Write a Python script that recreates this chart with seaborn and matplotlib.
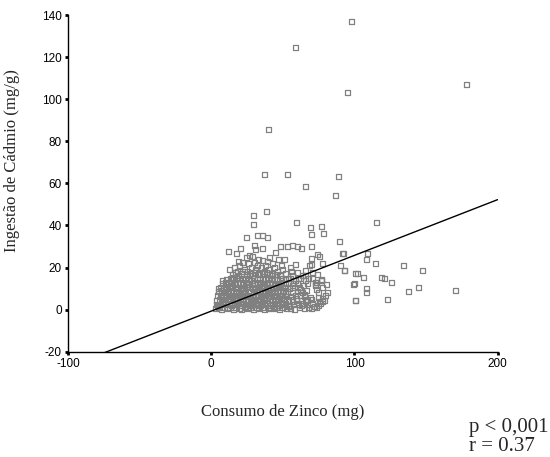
import matplotlib
matplotlib.use("Agg")
import matplotlib.pyplot as plt
import seaborn as sns
import pandas as pd

# ---- data ----
outlier_x = [98, 58.7, 178, 95, 40, 53.3, 37.4, 88.7, 65.7, 87, 38.8, 29.7, 59.6, 115.5, 69, 77,
             29.5, 78.4, 70, 89.6, 24.3, 32.3, 35.8, 39.3, 92.6, 109, 108.5, 114.6, 134, 147.6,
             90.5, 92.9, 101, 106.6, 119, 120.7, 125.6, 99.6, 108.3, 108.3, 144.5, 137.5, 170.3,
             100.6, 123, 100, 100.8]
outlier_y = [137, 124.8, 107, 103, 85.7, 64.3, 64.3, 63.3, 58.4, 54.1, 46.7, 44.6, 41.3, 41.3, 39.2,
             39.7, 40.3, 36, 35.6, 32.4, 34.4, 35.2, 35.2, 34.4, 26.8, 26.8, 23.7, 21.7, 20.8, 18.4,
             21.1, 18.4, 17.3, 15.2, 15.2, 14.8, 13, 12, 9.9, 8, 10.3, 8.7, 9.2,
             4.3, 4.9, 12.2, 4.4]

upper_x = [11.9, 17.5, 20.1, 30, 35.8, 31.1, 24.7, 26.8, 29, 22, 26, 30, 33, 36, 38, 41, 43, 45, 47,
           48.2, 53.3, 56.8, 60.3, 63.1, 69.7, 58.7, 70, 70, 74.4, 75.6, 68.5, 77.9, 76.7, 73.2,
           72.5, 81.4, 79, 77.9, 72, 73.2, 75, 75, 75.5, 67.4, 64.5, 66.2, 60, 65.9, 70.5, 76.7,
           72.7, 77.4, 75, 8.2, 5.4, 14.7, 13, 16, 18, 20, 23, 25, 28, 31, 33, 35, 37, 40, 42, 44,
           46, 48, 50, 52, 54, 56, 19, 21, 27, 32, 39, 43, 49, 51, 55, 57, 62, 64, 66, 68, 91.9,
           93, 102, 73, 76.7]
upper_y = [27.8, 26.8, 28.9, 30.5, 28.9, 28.4, 25, 25.5, 25.2, 22.4, 22, 22.6, 24, 23.5, 21, 25, 22,
           27, 24, 30, 30, 30.5, 30, 29.2, 30.1, 21.6, 24.1, 21.6, 26, 25.2, 20.9, 21.7, 14.1, 12.7,
           11.9, 8.2, 4.3, 3.7, 1.4, 0.8, 8, 6, 4, 4.3, 11.3, 9, 17.8, 18.6, 17.8, 13.8,
           11.4, 5.1, 1.9, 13.8, 9.9, 15.4, 19, 20, 18, 21, 19, 18, 20, 19, 17, 20, 18, 19, 17, 20,
           18, 16, 19, 17, 15, 18, 23, 17, 16, 21, 23, 16, 21, 24, 20, 16, 15, 16, 14, 15, 26.8,
           18.6, 17.3, 13, 13.8]

core_x = [
    3.2, 5.1, 7.3, 9.0, 11.2, 13.1, 15.3, 17.0, 19.4, 21.2, 23.5, 25.1, 27.4, 29.3, 31.6, 33.2, 35.5,
    37.4, 39.7, 41.3, 43.6, 45.5, 47.8, 49.6, 52.3, 55.1, 58.4, 61.9, 65.3, 69.8,
    3.8, 6.0, 8.2, 10.1, 12.4, 14.3, 16.5, 18.4, 20.7, 22.5, 24.8, 26.6, 28.9, 30.8, 33.0, 34.9, 37.1,
    39.0, 41.2, 43.1, 45.4, 47.2, 49.5, 51.8, 54.4, 57.6, 60.8, 63.7, 67.0,
    3.4, 5.5, 7.7, 9.6, 11.8, 13.7, 15.9, 17.8, 20.1, 21.9, 24.2, 26.0, 28.3, 30.2, 32.4, 34.3, 36.5,
    38.4, 40.6, 42.5, 44.8, 46.7, 48.9, 51.1, 53.6, 56.5, 59.7, 62.8, 66.1, 70.3,
    4.2, 6.4, 8.5, 10.5, 12.7, 14.6, 16.8, 18.7, 21.0, 22.8, 25.1, 27.0, 29.2, 31.1, 33.3, 35.2, 37.4,
    39.3, 41.5, 43.4, 45.7, 47.5, 49.8, 52.4, 55.3, 58.9, 62.1, 65.4,
    4.9, 7.0, 9.2, 11.1, 13.3, 15.2, 17.4, 19.3, 21.6, 23.4, 25.7, 27.6, 29.8, 31.7, 33.9, 35.8, 38.0,
    39.9, 42.1, 44.0, 46.3, 48.2, 50.5, 53.2, 56.4, 60.0, 63.5,
    6.2, 8.4, 10.3, 12.5, 14.4, 16.6, 18.5, 20.8, 22.6, 24.9, 26.8, 29.0, 30.9, 33.1, 35.0, 37.2, 39.1,
    41.3, 43.2, 45.5, 47.4, 49.7, 52.1, 54.8, 58.2, 61.6,
    8.0, 10.0, 12.1, 14.0, 16.2, 18.1, 20.3, 22.2, 24.4, 26.3, 28.5, 30.4, 32.6, 34.5, 36.7, 38.6, 40.8,
    42.7, 44.9, 46.8, 49.1, 51.6, 54.0, 57.3, 60.5,
    11.0, 13.5, 15.6, 17.6, 19.7, 21.7, 23.8, 25.8, 27.9, 29.9, 32.0, 34.0, 36.1, 38.1, 40.2, 42.3,
    44.4, 46.6, 49.0, 51.8, 55.5,
    14.5, 17.0, 19.3, 22.0, 24.3, 26.5, 29.0, 31.2, 33.6, 36.0, 38.3, 40.7, 43.0, 45.6, 48.3,
    56.5, 59, 62.5, 64.8, 67.5, 69, 70.5, 68, 63, 59.5, 57, 61, 66, 71, 73.5, 78, 79.5, 76, 74, 80.5,
    4.5, 8.8, 13.9, 18.9, 24.0, 29.7, 34.6, 39.5, 44.2, 49.1, 53.9,
    6.9, 12.0, 16.9, 22.1, 27.2, 32.1, 37.0, 42.4, 47.0, 52.0,
    9.7, 15.0, 20.2, 25.3, 30.5, 35.7, 40.0, 45.0, 50.2]
core_y = [
    0.4, 0.9, 0.3, 1.1, 0.5, 0.8, 0.2, 1.0, 0.6, 0.3, 1.2, 0.5, 0.8, 0.2, 0.9, 0.4, 1.1,
    0.3, 0.7, 1.0, 0.4, 0.8, 0.3, 1.0, 0.5, 0.7, 0.3, 0.9, 0.6, 0.4,
    2.5, 2.1, 2.9, 2.3, 2.7, 2.0, 2.6, 3.0, 2.2, 2.8, 2.4, 2.1, 2.9, 2.5, 2.2, 2.8, 2.3,
    2.7, 2.0, 2.6, 2.9, 2.2, 2.5, 2.8, 2.1, 2.6, 2.4, 2.9, 2.3,
    4.3, 4.8, 4.1, 4.6, 4.9, 4.2, 4.7, 4.4, 4.0, 4.8, 4.5, 4.1, 4.9, 4.3, 4.6, 4.0, 4.8,
    4.2, 4.5, 4.9, 4.3, 4.7, 4.1, 4.6, 4.4, 4.8, 4.2, 4.5, 4.0, 4.7,
    6.6, 6.1, 6.9, 6.3, 6.7, 6.0, 6.5, 6.8, 6.2, 6.6, 6.9, 6.1, 6.4, 6.8, 6.2, 6.7, 6.0,
    6.5, 6.9, 6.3, 6.6, 6.1, 6.8, 6.4, 6.2, 6.7, 6.5, 6.3,
    8.4, 8.9, 8.1, 8.7, 8.3, 8.8, 8.0, 8.6, 8.9, 8.2, 8.5, 8.8, 8.1, 8.7, 8.4, 8.0, 8.6,
    8.9, 8.3, 8.5, 8.1, 8.7, 8.4, 8.8, 8.2, 8.6, 8.3,
    10.5, 10.1, 10.8, 10.3, 10.9, 10.2, 10.6, 10.0, 10.7, 10.4, 10.9, 10.1, 10.6, 10.3, 10.8, 10.2, 10.7,
    10.4, 10.0, 10.6, 10.9, 10.3, 10.5, 10.1, 10.7, 10.4,
    12.4, 12.9, 12.2, 12.7, 12.0, 12.6, 12.9, 12.3, 12.8, 12.1, 12.5, 12.9, 12.2, 12.7, 12.4, 12.0, 12.8,
    12.3, 12.6, 12.1, 12.9, 12.4, 12.7, 12.2, 12.5,
    14.3, 14.8, 14.1, 14.6, 14.9, 14.2, 14.7, 14.4, 14.0, 14.8, 14.3, 14.6, 14.1, 14.9, 14.4, 14.7,
    14.2, 14.5, 14.8, 14.3, 14.6,
    16.8, 17.5, 16.4, 17.9, 16.9, 17.3, 16.2, 17.7, 16.6, 17.1, 17.8, 16.5, 17.2, 16.9, 16.3,
    11.5, 13.8, 9.5, 7.2, 12.5, 6, 3, 1.2, 1.8, 5.5, 3.8, 15, 16.2, 14.8, 9.8, 10.5, 6.8, 2.8, 16.5, 12,
    1.6, 3.6, 1.8, 3.4, 1.5, 3.7, 1.9, 3.3, 1.7, 3.5, 1.4,
    5.6, 7.6, 5.4, 7.8, 5.7, 7.4, 5.5, 7.7, 5.3, 7.5,
    9.6, 11.6, 9.4, 11.8, 9.7, 11.5, 9.5, 11.7, 9.3]

fit_intercept = -0.7
fit_slope = 0.265
x_ticks = [-100, 0, 100, 200]
y_ticks = [-20, 0, 20, 40, 60, 80, 100, 120, 140]

df = pd.DataFrame({
    "zinco": core_x + upper_x + outlier_x,
    "cadmio": core_y + upper_y + outlier_y,
})
line_x = [x_ticks[0], x_ticks[-1]]
line_df = pd.DataFrame({"x": line_x, "y": [fit_intercept + fit_slope * v for v in line_x]})

sns.set_style("ticks")
plt.rcParams["font.family"] = ["Liberation Sans", "DejaVu Sans"]
plt.rcParams["axes.unicode_minus"] = False

fig = plt.figure(figsize=(5.5, 4.57), dpi=100)
ax = fig.add_axes([0.1236, 0.2304, 0.905 - 0.1236, 0.967 - 0.2304])

sns.scatterplot(data=df, x="zinco", y="cadmio", marker="s", s=13, ax=ax, legend=False)
coll = ax.collections[0]
coll.set_facecolor("none")
coll.set_edgecolor("#808080")
coll.set_linewidth(0.9)

sns.lineplot(data=line_df, x="x", y="y", color="black", linewidth=1.0, ax=ax)

ax.set_xlim(-100, 200)
ax.set_ylim(-20, 140)
ax.set_xticks(x_ticks)
ax.set_yticks(y_ticks)
ax.tick_params(axis="both", direction="out", length=2.5, width=2, labelsize=8.5,
               colors="black", pad=2)
for s in ["top", "right"]:
    ax.spines[s].set_visible(False)
for s in ["left", "bottom"]:
    ax.spines[s].set_linewidth(1.0)
    ax.spines[s].set_color("black")

ax.set_xlabel("Consumo de Zinco (mg)", family=["Liberation Serif", "DejaVu Serif"], fontsize=12)
ax.set_ylabel("Ingestão de Cádmio (mg/g)", family=["Liberation Serif", "DejaVu Serif"], fontsize=12)
ax.xaxis.set_label_coords(0.5, -0.155)
ax.yaxis.set_label_coords(-0.112, 0.569)

fig.text(0.853, 1 - 432 / 457, "p < 0,001", family=["Liberation Serif", "DejaVu Serif"],
         fontsize=15, va="baseline", ha="left")
fig.text(0.853, 0.014, "r = 0.37", family=["Liberation Serif", "DejaVu Serif"],
         fontsize=15, va="baseline", ha="left")

fig.savefig("out.png", dpi=100)
